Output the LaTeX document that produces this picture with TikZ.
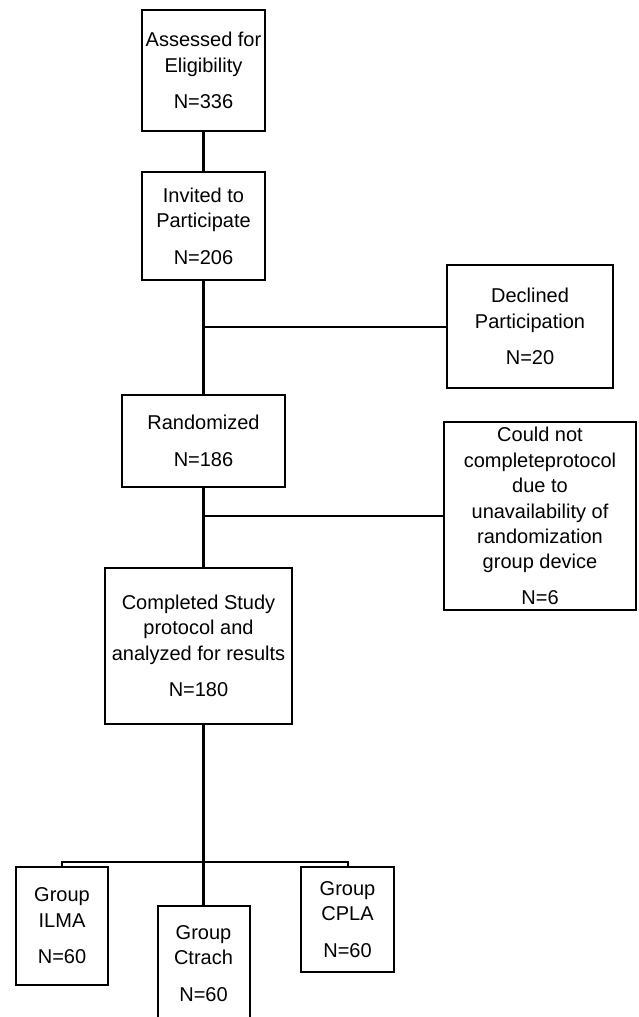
\documentclass[tikz,border=0pt]{standalone}
\usepackage{fontspec}
\setmainfont{Liberation Sans}
\usetikzlibrary{positioning}

\begin{document}
\begin{tikzpicture}[x=0.5pt, y=-0.5pt, on grid, align=center,
    box/.style={draw, line width=1pt, inner sep=2pt, font=\fontsize{10}{12.7}\selectfont},
    trunk/.style={line width=1.5pt},
    branch/.style={line width=1pt}]
    \useasboundingbox (0,0) rectangle (638,1017);
    % main column
    \node[box, minimum width=61.5pt, minimum height=60.5pt] (a) at (203.5,70.5) {Assessed for\\Eligibility\\[5.5pt]N=336};
    \node[box, minimum width=61.5pt, minimum height=54pt] (b) [below = 77.75pt of a] {Invited to\\Participate\\[5.5pt]N=206};
    \node[box, minimum width=81.5pt, minimum height=46pt] (d) [below = 107.5pt of b] {Randomized\\[5.5pt]N=186};
    \node[box, minimum width=93.5pt, minimum height=78pt] (f) [below = 102.5pt of d, xshift=-2.5pt] {Completed Study\\protocol and\\analyzed for results\\[5.5pt]N=180};
    % side boxes
    \node[box, minimum width=83pt, minimum height=61.5pt] (c) [below right = 50.25pt and 163.25pt of b] {Declined\\Participation\\[5.5pt]N=20};
    \node[box, minimum width=96pt, minimum height=94pt] (e) [below right = 37.5pt and 168.25pt of d] {Could not\\completeprotocol\\due to\\unavailability of\\randomization\\group device\\[5pt]N=6};
    % groups
    \node[box, minimum width=46pt, minimum height=59pt] (g) [below left = 140pt and 68.25pt of f] {Group\\ILMA\\[5.5pt]N=60};
    \node[box, minimum width=46pt, minimum height=57.5pt] (h) [below = 158.75pt of f, xshift=2.5pt] {Group\\Ctrach\\[5.5pt]N=60};
    \node[box, minimum width=46.5pt, minimum height=52.5pt] (i) [below right = 136.75pt and 74.5pt of f] {Group\\CPLA\\[5.5pt]N=60};
    \coordinate (j) at (203.5,862);

    \draw[trunk] (a) -- (b);
    \draw[trunk] (b) -- (d);
    \draw[trunk] (d.south) -- (d.south |- f.north);
    \draw[trunk] (f.south -| j) -- (j) -- (h.north);
    \draw[branch] (b.south |- c.west) -- (c.west);
    \draw[branch] (d.south |- e.west) -- (e.west);
    \draw[branch] (g.north) -- (g.north |- j) -- (i.north |- j) -- (i.north);
\end{tikzpicture}
\end{document}
